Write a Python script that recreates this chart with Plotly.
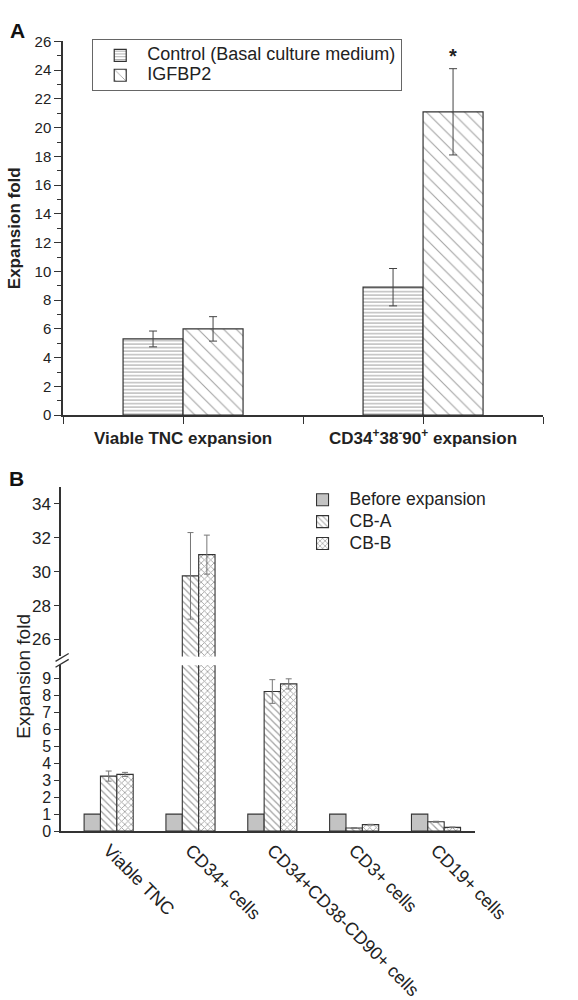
import plotly.graph_objects as go

# ---------------- Panel A data ----------------
a_categories = ["<b>Viable TNC expansion</b>", "<b>CD34<sup>+</sup>38<sup>-</sup>90<sup>+</sup> expansion</b>"]
a_control = [5.3, 8.9]
a_control_err = [0.55, 1.3]
a_igfbp2 = [6.0, 21.1]
a_igfbp2_err = [0.85, 3.0]
a_names = ["Control (Basal culture medium)", "IGFBP2"]
a_yticks = list(range(0, 27, 2))

# ---------------- Panel B data ----------------
b_categories = ["Viable TNC", "CD34+ cells", "CD34+CD38-CD90+ cells", "CD3+ cells", "CD19+ cells"]
b_before = [1, 1, 1, 1, 1]
b_cba = [3.25, 29.75, 8.25, 0.18, 0.55]
b_cba_err = [0.3, 2.55, 0.7, 0.02, 0.03]
b_cbb = [3.35, 31.0, 8.7, 0.38, 0.22]
b_cbb_err = [0.12, 1.15, 0.3, 0.02, 0.02]
b_names = ["Before expansion", "CB-A", "CB-B"]
b_low_ticks = list(range(0, 10))
b_high_ticks = [26, 28, 30, 32, 34]

FONT = "Liberation Sans, Arial, sans-serif"
W, H = 578, 1000
def px(x):
    return x / W
def py(y):
    return 1 - y / H
def big(t, size):
    return f"<span style='font-size:{size}px'>{t}</span>"

a_x = list(range(len(a_categories)))
b_x = list(range(len(b_categories)))

fig = go.Figure()

# Panel A bars
fig.add_trace(go.Bar(
    x=a_x, y=a_control, name=big(a_names[0], 18), xaxis="x", yaxis="y",
    offset=-0.25, width=0.25,
    marker=dict(color="white", line=dict(color="#333", width=1.2),
                pattern=dict(shape="-", size=3.5, solidity=0.3, fgcolor="#444", bgcolor="white")),
    error_y=dict(type="data", array=a_control_err, color="#444", thickness=1, width=4),
    legend="legend",
))
fig.add_trace(go.Bar(
    x=a_x, y=a_igfbp2, name=big(a_names[1], 18), xaxis="x", yaxis="y",
    offset=0, width=0.25,
    marker=dict(color="white", line=dict(color="#333", width=1.2),
                pattern=dict(shape="\\", size=9, solidity=0.12, fgcolor="#444", bgcolor="white")),
    error_y=dict(type="data", array=a_igfbp2_err, color="#444", thickness=1, width=4),
    legend="legend",
))

# Panel B bars (lower and upper segments)
b_specs = [
    (b_names[0], b_before, None, -0.3, dict(color="#c3c3c3", line=dict(color="#333", width=1.1))),
    (b_names[1], b_cba, b_cba_err, -0.1, dict(color="white", line=dict(color="#333", width=1.1),
                                              pattern=dict(shape="\\", size=5, solidity=0.25, fgcolor="#444", bgcolor="white"))),
    (b_names[2], b_cbb, b_cbb_err, 0.1, dict(color="white", line=dict(color="#333", width=1.1),
                                             pattern=dict(shape="x", size=4.5, solidity=0.35, fgcolor="#444", bgcolor="white"))),
]
for seg, (xa, ya) in enumerate([("x2", "y2"), ("x3", "y3")]):
    for name, vals, errs, off, marker in b_specs:
        kw = {}
        if errs is not None:
            kw["error_y"] = dict(type="data", array=errs, color="#777", thickness=1, width=3)
        fig.add_trace(go.Bar(
            x=b_x, y=vals, name=big(name, 17.5), xaxis=xa, yaxis=ya,
            offset=off, width=0.2, marker=marker,
            showlegend=(seg == 0), legend="legend2", **kw))

axis_common = dict(showline=True, linecolor="#333", linewidth=1.5, showgrid=False, zeroline=False,
                   tickcolor="#333", tickwidth=1.3)

fig.update_layout(
    width=W, height=H,
    margin=dict(l=0, r=0, t=0, b=0),
    paper_bgcolor="white", plot_bgcolor="white",
    barmode="overlay",
    font=dict(family=FONT, color="#222"),
    xaxis=dict(domain=[px(67), px(577)], anchor="y", range=[-0.5, 1.5],
               tickmode="array", tickvals=[-0.5, 0, 0.5, 1, 1.5],
               ticktext=["", a_categories[0], "", a_categories[1], ""],
               ticks="outside", ticklen=7, tickfont=dict(size=17), **axis_common),
    yaxis=dict(domain=[py(414), py(33)], anchor="x", range=[0, 26],
               tickmode="array", tickvals=a_yticks, ticks="outside", ticklen=7,
               minor=dict(dtick=1, tick0=0, ticks="outside", ticklen=4, tickcolor="#333"),
               tickfont=dict(size=15),
               title=dict(text="<b>Expansion fold</b>", font=dict(size=17), standoff=10),
               **axis_common),
    xaxis2=dict(domain=[px(65), px(505)], anchor="y2", range=[-0.58, 4.48],
                tickmode="array", tickvals=b_x, ticktext=b_categories, tickangle=45,
                ticks="", tickfont=dict(size=18), **axis_common),
    yaxis2=dict(domain=[py(838), py(669)], anchor="x2", range=[0, 9.8],
                tickmode="array", tickvals=b_low_ticks, ticks="outside", ticklen=5,
                tickfont=dict(size=16), **axis_common),
    xaxis3=dict(domain=[px(65), px(505)], anchor="y3", range=[-0.58, 4.48], visible=False,
                matches="x2"),
    yaxis3=dict(domain=[py(660), py(487)], anchor="x3", range=[25, 35],
                tickmode="array", tickvals=b_high_ticks, ticks="outside", ticklen=5,
                tickfont=dict(size=17), **axis_common),
    legend=dict(x=px(98), y=py(31), xanchor="left", yanchor="top",
                bordercolor="#666", borderwidth=1, bgcolor="white",
                font=dict(size=13, family=FONT, color="#222"), itemwidth=44,
                entrywidth=290, entrywidthmode="pixels",
                tracegroupgap=0, traceorder="normal"),
    legend2=dict(x=px(314), y=py(484), xanchor="left", yanchor="top",
                 borderwidth=0, bgcolor="rgba(0,0,0,0)",
                 font=dict(size=14.5, family=FONT, color="#222"), itemwidth=44,
                 tracegroupgap=0, traceorder="normal"),
    annotations=[
        dict(text="<b>A</b>", x=px(8), y=py(22), xref="paper", yref="paper",
             xanchor="left", yanchor="middle", showarrow=False, font=dict(size=21, color="#111")),
        dict(text="<b>B</b>", x=px(7), y=py(479), xref="paper", yref="paper",
             xanchor="left", yanchor="middle", showarrow=False, font=dict(size=21, color="#111")),
        dict(text="<b>*</b>", x=1.125, y=25.0, xref="x", yref="y",
             showarrow=False, font=dict(size=20, color="#222")),
        dict(text="Expansion fold", x=px(24), y=py(680), xref="paper", yref="paper",
             xanchor="center", yanchor="middle",
             textangle=-90, showarrow=False, font=dict(size=19, color="#222")),
    ],
    shapes=[
        dict(type="line", xref="paper", yref="paper", x0=px(59), y0=py(665), x1=px(73), y1=py(657),
             line=dict(color="#333", width=1.3)),
        dict(type="line", xref="paper", yref="paper", x0=px(59), y0=py(671), x1=px(73), y1=py(663),
             line=dict(color="#333", width=1.3)),
    ],
)

fig.write_html("out.html")
